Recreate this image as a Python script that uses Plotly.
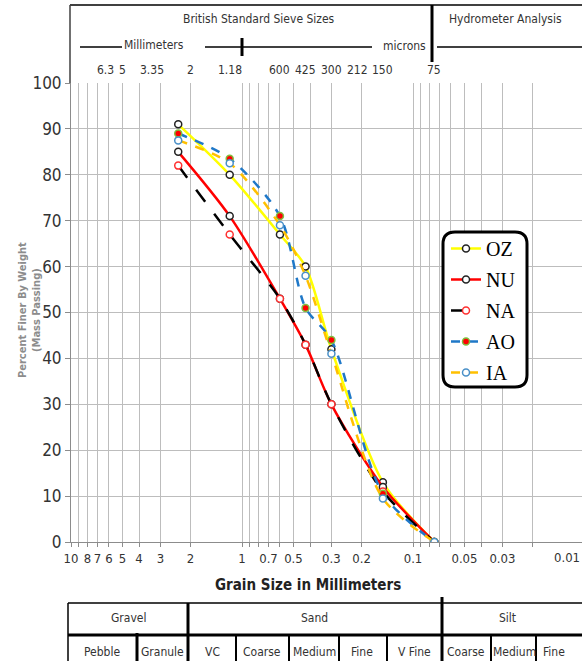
import math
import plotly.graph_objects as go

# ---------------- data ----------------
sieve_mm = [2.36, 1.18, 0.6, 0.425, 0.3, 0.15, 0.075]
OZ = [91, 80, 67, 60, 42, 13, 0]
NU = [85, 71, 53, 43, 30, 12, 0]
NA = [82, 67, 53, 43, 30, 11, 0]
AO = [89, 83.5, 71, 51, 44, 10.5, 0]
IA = [87.5, 82.5, 69, 58, 41, 9.5, 0]

sieve_labels = ["6.3", "5", "3.35", "2", "1.18", "600", "425", "300", "212", "150", "75"]
sieve_label_mm = [6.3, 5, 3.35, 2, 1.18, 0.6, 0.425, 0.3, 0.212, 0.15, 0.075]

x_labelled = ["10", "8", "7", "6", "5", "4", "3", "2", "1", "0.7", "0.5", "0.3", "0.2",
              "0.1", "0.05", "0.03", "0.01"]

class_row1 = ["Gravel", "Sand", "Silt"]
class_row2 = ["Pebble", "Granule", "VC", "Coarse", "Medium", "Fine", "V Fine",
              "Coarse", "Medium", "Fine"]

# ---------------- geometry helpers ----------------
W_PX, H_PX = 582, 661
L, R, T, B = 71, 582, 83, 542
PW, PH = R - L, B - T
DECADE = 171.0
X_END = 1 - PW / DECADE


def px(x):
    return (x - L) / PW


def py(y):
    return (B - y) / PH


SANS = "Liberation Sans Narrow, DejaVu Sans Condensed, Arial Narrow, sans-serif"
SERIF = "Liberation Serif, Times New Roman, serif"

fig = go.Figure()

series = [
    ("OZ", OZ, "#FFFF00", "solid", dict(color="white", size=7, line=dict(color="#222222", width=1.5))),
    ("NU", NU, "#FF0000", "solid", dict(color="white", size=7, line=dict(color="#222222", width=1.5))),
    ("NA", NA, "#000000", "longdash", dict(color="white", size=7, line=dict(color="#FF3030", width=1.5))),
    ("AO", AO, "#1F78C8", "dash", dict(color="#FF0000", size=7, line=dict(color="#7FBF3F", width=1.5))),
    ("IA", IA, "#FFC000", "dash", dict(color="white", size=7, line=dict(color="#4A90C8", width=1.5))),
]
for name, vals, col, dash, mk in series:
    fig.add_trace(go.Scatter(
        x=sieve_mm, y=vals, name=name, mode="lines+markers",
        line=dict(color=col, width=2.5, dash=dash, shape="spline", smoothing=0.8),
        marker=dict(symbol="circle", **mk),
        legendgroup=name,
    ))

# x ticks: every 1..9 multiple per decade
tickvals, ticktext = [], []
for k in [1, 0, -1, -2]:
    for m in range(9, 0, -1):
        if k == 1 and m > 1:
            continue
        v = round(m * 10 ** k, 6)
        if math.log10(v) < X_END:
            continue
        s = ("%g" % v)
        tickvals.append(v)
        ticktext.append(s if s in x_labelled else "")

fig.update_xaxes(
    type="log", range=[1, X_END], tickvals=tickvals, ticktext=ticktext,
    showgrid=True, gridcolor="#BDBDBD", gridwidth=1,
    showline=True, linecolor="#8C8C8C", linewidth=1,
    ticks="outside", ticklen=4, tickcolor="#8C8C8C",
    tickfont=dict(family=SANS, size=13, color="#333333"),
    zeroline=False,
)
fig.update_yaxes(
    range=[0, 100], dtick=10, showgrid=True, gridcolor="#BDBDBD", gridwidth=1,
    showline=True, linecolor="#8C8C8C", linewidth=1,
    ticks="outside", ticklen=5, tickcolor="#8C8C8C",
    tickfont=dict(family=SANS, size=17, color="#333333"),
    zeroline=False,
)

shapes = []
ann = []


def hline(x0, x1, y, w=1.5, c="#000000"):
    shapes.append(dict(type="line", xref="paper", yref="paper", x0=px(x0), x1=px(x1),
                       y0=py(y), y1=py(y), line=dict(color=c, width=w), layer="above"))


def vline(x, y0, y1, w=1.5, c="#000000"):
    shapes.append(dict(type="line", xref="paper", yref="paper", x0=px(x), x1=px(x),
                       y0=py(y0), y1=py(y1), line=dict(color=c, width=w), layer="above"))


def text(x, y, s, size=12, color="#333333", family=SANS, **kw):
    ann.append(dict(xref="paper", yref="paper", x=px(x), y=py(y), text=s, showarrow=False,
                    xanchor="center", yanchor="middle",
                    font=dict(family=family, size=size, color=color), **kw))


# ---- header ----
hline(70, 582, 5, 2, "#404040")
vline(70, 5, 83, 1.5, "#404040")
vline(432, 5, 62, 3)
text(259, 19, "British Standard Sieve Sizes", 12)
text(505, 19, "Hydrometer Analysis", 12)
hline(80, 122, 47, 1.5)
text(154, 45, "Millimeters", 12)
hline(205, 372, 47, 1.5)
vline(242, 38, 56, 3)
text(404, 46, "microns", 12)
hline(437, 582, 47, 1.5)
for lab, v in zip(sieve_labels, sieve_label_mm):
    ann.append(dict(xref="x", yref="paper", x=math.log10(v), y=py(70), text=lab,
                    showarrow=False, xanchor="center", yanchor="middle",
                    font=dict(family=SANS, size=12, color="#333333")))

# label for 0.01 at the clipped right edge
ann.append(dict(xref="paper", yref="paper", x=1.0, y=py(557), text="0.01", showarrow=False,
                xanchor="right", yanchor="middle",
                font=dict(family=SANS, size=13, color="#333333")))

# ---- axis titles ----
text(308, 585, "<b>Grain Size in Millimeters</b>", 15, "#222222")
text(29, 310, "<b>Percent Finer By Weight<br>(Mass Passing)</b>", 11, "#8C8C8C", textangle=-90)

# ---- bottom table ----
hline(68, 582, 603, 1.5)
hline(68, 582, 635, 3)
vline(68, 603, 661, 1.5)
vline(188, 603, 661, 3)
vline(442, 597, 661, 3)
vline(137, 633, 661, 3)
for xv in [236, 289, 339, 387, 491, 536]:
    vline(xv, 635, 661, 2)
for s, xv in zip(class_row1, [128, 314, 507]):
    text(xv, 618, s, 12)
for s, xv in zip(class_row2, [102, 162, 212, 262, 314, 362, 414, 466, 514, 554]):
    text(xv, 652, s, 12)

# ---- legend frame (rounded) ----
x0, x1, y0, y1, r = px(443), px(527), py(232), py(387), 12
rx, ry = r / PW, r / PH
path = (f"M {x0+rx},{y0} L {x1-rx},{y0} Q {x1},{y0} {x1},{y0-ry} "
        f"L {x1},{y1+ry} Q {x1},{y1} {x1-rx},{y1} L {x0+rx},{y1} "
        f"Q {x0},{y1} {x0},{y1+ry} L {x0},{y0-ry} Q {x0},{y0} {x0+rx},{y0} Z")
shapes.append(dict(type="path", xref="paper", yref="paper", path=path,
                   line=dict(color="#000000", width=3), fillcolor="white", layer="above"))

fig.update_layout(
    width=W_PX, height=H_PX,
    margin=dict(l=L, r=W_PX - R, t=T, b=H_PX - B, pad=0),
    paper_bgcolor="white", plot_bgcolor="white",
    shapes=shapes, annotations=ann,
    showlegend=True,
    legend=dict(x=px(446), y=py(229), xanchor="left", yanchor="top",
                bgcolor="rgba(0,0,0,0)", borderwidth=0,
                font=dict(family=SERIF, size=20, color="#000000"),
                tracegroupgap=2, itemwidth=30),
)

fig.write_html("out.html")
